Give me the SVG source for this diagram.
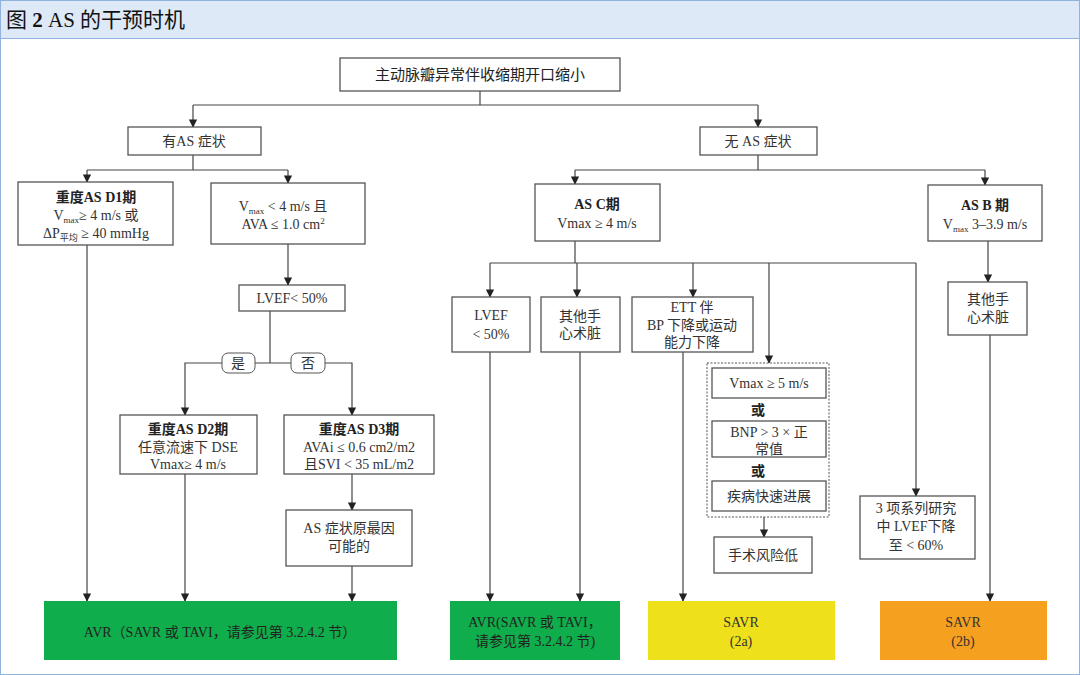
<svg xmlns="http://www.w3.org/2000/svg" width="1080" height="675" viewBox="0 0 1080 675">
<defs>
<marker id="a" viewBox="0 0 10 10" refX="9" refY="5" markerWidth="7" markerHeight="7" orient="auto"><path d="M0,0 L10,5 L0,10 z" fill="#222"/></marker>
<style>
.b{fill:#fff;stroke:#555;stroke-width:1.3}
.t{font-family:"Liberation Serif","Noto Sans CJK SC",serif;font-size:14px;fill:#333;text-anchor:middle}
.bd{font-weight:bold;fill:#222}
.c line,.c path{stroke:#444;stroke-width:1.2;fill:none}
.ar{marker-end:url(#a)}
</style>
</defs>
<rect x="0" y="0" width="1080" height="675" fill="#fff"/>
<rect x="0.5" y="0.5" width="1079" height="38" fill="#dde9f6" stroke="#8fb3dd"/>
<rect x="0.5" y="0.5" width="1079" height="674" fill="none" stroke="#8fb3dd"/>
<text x="6" y="27" style="font-family:'Liberation Serif','Noto Sans CJK SC',serif;font-size:21px;fill:#111">图 <tspan font-weight="bold">2</tspan> AS 的干预时机</text>

<g class="c">
<line x1="480" y1="91" x2="480" y2="105"/>
<line x1="193" y1="105" x2="758" y2="105"/>
<line class="ar" x1="193" y1="105" x2="193" y2="127"/>
<line class="ar" x1="758" y1="105" x2="758" y2="127"/>
<line x1="193" y1="155" x2="193" y2="170"/>
<line x1="87" y1="170" x2="288" y2="170"/>
<line class="ar" x1="87" y1="170" x2="87" y2="182"/>
<line class="ar" x1="288" y1="170" x2="288" y2="183"/>
<line x1="758" y1="155" x2="758" y2="170"/>
<line x1="575" y1="170" x2="985" y2="170"/>
<line class="ar" x1="575" y1="170" x2="575" y2="184"/>
<line class="ar" x1="985" y1="170" x2="985" y2="185"/>
<line class="ar" x1="288" y1="244" x2="288" y2="285"/>
<line x1="270" y1="311" x2="270" y2="363"/>
<path class="ar" d="M222,363 H185 V415"/>
<line x1="255" y1="363" x2="291" y2="363"/>
<path class="ar" d="M325,363 H352 V415"/>
<line class="ar" x1="87" y1="245" x2="87" y2="601"/>
<line class="ar" x1="185" y1="474" x2="185" y2="601"/>
<line class="ar" x1="352" y1="474" x2="352" y2="510"/>
<line class="ar" x1="352" y1="566" x2="352" y2="601"/>
<line x1="575" y1="241" x2="575" y2="263"/>
<line x1="490" y1="263" x2="916" y2="263"/>
<line class="ar" x1="490" y1="263" x2="490" y2="297"/>
<line class="ar" x1="577" y1="263" x2="577" y2="297"/>
<line class="ar" x1="693" y1="263" x2="693" y2="297"/>
<line class="ar" x1="769" y1="263" x2="769" y2="363"/>
<line class="ar" x1="916" y1="263" x2="916" y2="496"/>
<line class="ar" x1="490" y1="352" x2="490" y2="601"/>
<line class="ar" x1="580" y1="352" x2="580" y2="601"/>
<line class="ar" x1="683" y1="352" x2="683" y2="601"/>
<line class="ar" x1="764" y1="517" x2="764" y2="537"/>
<line class="ar" x1="988" y1="241" x2="988" y2="282"/>
<line class="ar" x1="990" y1="335" x2="990" y2="601"/>
</g>

<g id="top"><rect class="b" x="340" y="58" width="280" height="33"/><text class="t" x="480" y="80" font-size="15" style="font-size:15px;fill:#222">主动脉瓣异常伴收缩期开口缩小</text></g>
<g id="sym"><rect class="b" x="128" y="127" width="133" height="28"/><text class="t" x="194" y="146">有AS 症状</text></g>
<g id="nosym"><rect class="b" x="700" y="127" width="117" height="28"/><text class="t" x="758" y="146">无 AS 症状</text></g>
<g id="d1"><rect class="b" x="18" y="182" width="155" height="63"/>
<text class="t bd" x="96" y="202">重度AS D1期</text>
<text class="t" x="96" y="220">V<tspan font-size="9" dy="3">max</tspan><tspan dy="-3">≥ 4 m/s 或</tspan></text>
<text class="t" x="96" y="238">ΔP<tspan font-size="9" dy="3">平均</tspan><tspan dy="-3"> ≥ 40 mmHg</tspan></text></g>
<g id="vmax"><rect class="b" x="211" y="183" width="154" height="61"/>
<text class="t" x="283" y="211">V<tspan font-size="9" dy="3">max</tspan><tspan dy="-3">  &lt; 4 m/s 且</tspan></text>
<text class="t" x="283" y="229">AVA ≤ 1.0 cm<tspan font-size="9" dy="-5">2</tspan></text></g>
<g id="lvef1"><rect class="b" x="239" y="285" width="106" height="26"/><text class="t" x="292" y="303">LVEF&lt; 50%</text></g>
<g id="yes"><rect x="222" y="353" width="33" height="20" rx="6" fill="#fff" stroke="#555"/><text class="t" x="238" y="368">是</text></g>
<g id="no"><rect x="291" y="353" width="34" height="20" rx="6" fill="#fff" stroke="#555"/><text class="t" x="308" y="368">否</text></g>
<g id="d2"><rect class="b" x="120" y="415" width="137" height="59"/>
<text class="t bd" x="188" y="434">重度AS D2期</text>
<text class="t" x="188" y="452">任意流速下 DSE</text>
<text class="t" x="188" y="469">Vmax≥ 4 m/s</text></g>
<g id="d3"><rect class="b" x="284" y="415" width="150" height="59"/>
<text class="t bd" x="359" y="434">重度AS D3期</text>
<text class="t" x="359" y="452">AVAi ≤ 0.6 cm2/m2</text>
<text class="t" x="359" y="469">且SVI &lt; 35 mL/m2</text></g>
<g id="cause"><rect class="b" x="286" y="510" width="126" height="56"/>
<text class="t" x="349" y="533">AS 症状原最因</text><text class="t" x="349" y="551">可能的</text></g>
<g id="g1"><rect x="44" y="601" width="353" height="59" fill="#0fad4b"/><text class="t" x="220" y="637" style="fill:#222">AVR（SAVR 或 TAVI，请参见第 3.2.4.2 节）</text></g>

<g id="asc"><rect class="b" x="535" y="184" width="125" height="57"/>
<text class="t bd" x="597" y="209">AS C期</text><text class="t" x="597" y="228">Vmax ≥ 4 m/s</text></g>
<g id="asb"><rect class="b" x="928" y="185" width="114" height="56"/>
<text class="t bd" x="985" y="210">AS B 期</text><text class="t" x="985" y="229">V<tspan font-size="9" dy="3">max</tspan><tspan dy="-3"> 3–3.9 m/s</tspan></text></g>
<g id="lvef2"><rect class="b" x="452" y="297" width="78" height="55"/><text class="t" x="491" y="320">LVEF</text><text class="t" x="491" y="339">&lt; 50%</text></g>
<g id="other1"><rect class="b" x="541" y="297" width="79" height="55"/><text class="t" x="580" y="321">其他手</text><text class="t" x="580" y="338">心术脏</text></g>
<g id="ett"><rect class="b" x="632" y="297" width="121" height="55"/><text class="t" x="692" y="312">ETT 伴</text><text class="t" x="692" y="330">BP 下降或运动</text><text class="t" x="692" y="347">能力下降</text></g>
<g id="crit"><rect x="707" y="363" width="122" height="154" fill="#fff" stroke="#555" stroke-dasharray="2,1.5"/>
<rect class="b" x="712" y="368" width="114" height="30"/><text class="t" x="769" y="388">Vmax ≥ 5 m/s</text>
<text class="t bd" x="758" y="415">或</text>
<rect class="b" x="712" y="421" width="114" height="36"/><text class="t" x="769" y="437">BNP &gt; 3 × 正</text><text class="t" x="769" y="454">常值</text>
<text class="t bd" x="758" y="476">或</text>
<rect class="b" x="712" y="481" width="114" height="30"/><text class="t" x="769" y="501">疾病快速进展</text></g>
<g id="low"><rect class="b" x="714" y="537" width="98" height="36"/><text class="t" x="763" y="560">手术风险低</text></g>
<g id="ser"><rect class="b" x="860" y="496" width="115" height="63"/><text class="t" x="916" y="513">3 项系列研究</text><text class="t" x="916" y="531">中 LVEF下降</text><text class="t" x="916" y="550">至 &lt; 60%</text></g>
<g id="other2"><rect class="b" x="948" y="282" width="79" height="53"/><text class="t" x="988" y="304">其他手</text><text class="t" x="988" y="322">心术脏</text></g>
<g id="g2"><rect x="450" y="601" width="170" height="59" fill="#0fad4b"/><text class="t" x="535" y="627" style="fill:#222">AVR(SAVR 或 TAVI，</text><text class="t" x="535" y="646" style="fill:#222">请参见第 3.2.4.2 节)</text></g>
<g id="y"><rect x="648" y="601" width="187" height="59" fill="#efe01c"/><text class="t" x="741" y="627">SAVR</text><text class="t" x="741" y="646">(2a)</text></g>
<g id="o"><rect x="880" y="601" width="167" height="59" fill="#f6a020"/><text class="t" x="963" y="627">SAVR</text><text class="t" x="963" y="646">(2b)</text></g>
</svg>
